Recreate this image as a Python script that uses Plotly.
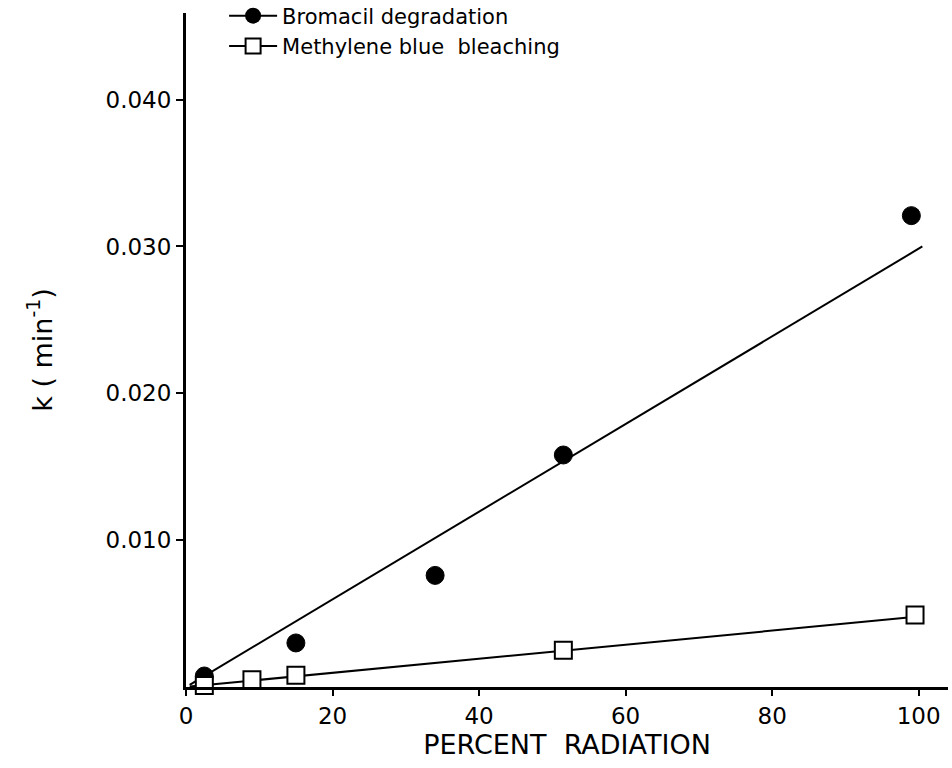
import plotly.graph_objects as go

# Bromacil degradation rate constants vs. percent radiation
bromacil_x = [2.5, 15, 34, 51.5, 99]
bromacil_k = [0.00075, 0.0030, 0.0076, 0.0158, 0.0321]
bromacil_fit_x = [0.5, 100.5]
bromacil_fit_k = [0.00015, 0.0300]

# Methylene blue bleaching rate constants vs. percent radiation
mb_x = [2.5, 9, 15, 51.5, 99.5]
mb_k = [0.0001, 0.0005, 0.0008, 0.0025, 0.0049]
mb_fit_x = [0.5, 100]
mb_fit_k = [0.00003, 0.0048]

x_ticks = [0, 20, 40, 60, 80, 100]
y_ticks = [0.010, 0.020, 0.030, 0.040]

FONT = "DejaVu Sans"
BLACK = "black"

fig = go.Figure()

# fitted lines
fig.add_trace(go.Scatter(x=bromacil_fit_x, y=bromacil_fit_k, mode="lines",
                         line=dict(color=BLACK, width=2), showlegend=False,
                         hoverinfo="skip"))
fig.add_trace(go.Scatter(x=mb_fit_x, y=mb_fit_k, mode="lines",
                         line=dict(color=BLACK, width=2), showlegend=False,
                         hoverinfo="skip"))

# measured points
fig.add_trace(go.Scatter(x=bromacil_x, y=bromacil_k, mode="markers",
                         marker=dict(symbol="circle", size=18, color=BLACK,
                                     line=dict(color=BLACK, width=1)),
                         showlegend=False, cliponaxis=False))
fig.add_trace(go.Scatter(x=mb_x, y=mb_k, mode="markers",
                         marker=dict(symbol="square", size=17, color="white",
                                     line=dict(color=BLACK, width=2)),
                         showlegend=False, cliponaxis=False))

# legend entries (line through marker)
fig.add_trace(go.Scatter(x=[None], y=[None], mode="lines+markers",
                         name="Bromacil degradation",
                         line=dict(color=BLACK, width=2),
                         marker=dict(symbol="circle", size=16, color=BLACK)))
fig.add_trace(go.Scatter(x=[None], y=[None], mode="lines+markers",
                         name="Methylene blue  bleaching",
                         line=dict(color=BLACK, width=2),
                         marker=dict(symbol="square", size=15, color="white",
                                     line=dict(color=BLACK, width=2))))

fig.update_layout(
    width=952, height=768,
    margin=dict(l=186, r=4, t=13, b=81, autoexpand=False),
    paper_bgcolor="white", plot_bgcolor="white",
    font=dict(family=FONT, color=BLACK, size=20),
    legend=dict(x=0.05, y=1.026, xanchor="left", yanchor="top",
                bgcolor="rgba(0,0,0,0)", itemwidth=48,
                font=dict(family=FONT, size=21, color=BLACK),
                tracegroupgap=0),
    xaxis=dict(range=[0, 104], tickvals=x_ticks, showgrid=False, zeroline=False,
               showline=True, linecolor=BLACK, linewidth=3,
               ticks="outside", ticklen=6, tickwidth=2, tickcolor=BLACK,
               tickfont=dict(family=FONT, size=23),
               title=dict(text="PERCENT  RADIATION", standoff=8,
                          font=dict(family=FONT, size=27))),
    yaxis=dict(range=[0, 0.0459], tickvals=y_ticks, tickformat=".3f",
               showgrid=False, zeroline=False,
               showline=True, linecolor=BLACK, linewidth=3,
               ticks="outside", ticklen=7, tickwidth=2, tickcolor=BLACK,
               tickfont=dict(family=FONT, size=23),
               title=dict(text="k ( min<sup>-1</sup>)", standoff=46,
                          font=dict(family=FONT, size=27))),
)

fig.write_html("out.html")
